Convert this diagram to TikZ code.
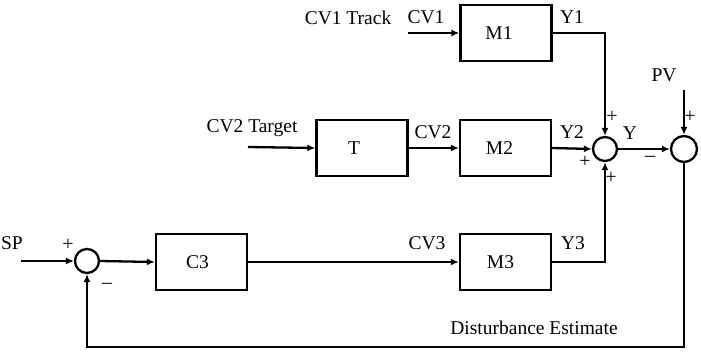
\documentclass[tikz,border=0pt]{standalone}
\usepackage{fontspec}
\setmainfont{Liberation Serif}
\usetikzlibrary{arrows.meta}
\begin{document}
\begin{tikzpicture}[x=1pt,y=-1pt, line width=2.3pt,
  blk/.style={draw, minimum width=91pt, minimum height=56pt, inner sep=0pt, font=\fontsize{19.5}{22}\selectfont},
  sumc/.style={draw, circle, minimum size=24pt, inner sep=0pt},
  lbl/.style={font=\fontsize{19.5}{22}\selectfont, inner sep=0pt},
  sgn/.style={font=\fontsize{20}{22}\selectfont, inner sep=0pt},
  arr/.style={-{Latex[length=8pt,width=7pt]}}]
\useasboundingbox (0,0) rectangle (701,353);
% blocks
\node[blk] (M1) at (506,33) {M1\kern14pt};
\node[blk] (M2) at (505.5,148) {M2\kern12pt};
\node[blk] (T)  at (362,148) {T\kern16pt};
\node[blk] (M3) at (505.5,262) {M3\kern10pt};
\node[blk] (C3) at (201.5,262) {C3\kern8pt};
% summing junctions
\node[sumc] (s1) at (605,149) {};
\node[sumc, minimum size=26pt] (s2) at (684,149) {};
\node[sumc] (s3) at (87,261) {};
% free ends
\coordinate (cv1in) at (408,33);
\coordinate (cv2in) at (248,147);
\coordinate (pvin) at (684,90);
\coordinate (spin) at (21,261);
\coordinate (fb) at (684,347);
% connectors
\draw[arr] (cv1in) -- (M1.west);
\draw[arr] (M1.east) -| (s1.north);
\draw[arr] (cv2in) -- (T.west);
\draw[arr] (T.east) -- (M2.west);
\draw[arr] (M2.east) -- (s1.west);
\draw[arr] (M3.east) -| (s1.south);
\draw[arr] (s1.east) -- (s2.west);
\draw[arr] (pvin) -- (s2.north);
\draw[arr] (s2.south) -- (fb) -| (s3.south);
\draw[arr] (spin) -- (s3.west);
\draw[arr] (s3.east) -- (C3.west);
\draw[arr] (C3.east) -- (M3.west);
% labels
\node[lbl] (l1) at (348,18) {CV1 Track};
\node[lbl] (l2) at (426,17) {CV1};
\node[lbl] (l3) at (572,17) {Y1};
\node[lbl] (l4) at (664,75) {PV};
\node[lbl] (l5) at (252,128) {CV2 Target};
\node[lbl] (l6) at (433,132) {CV2};
\node[lbl] (l7) at (572,132) {Y2};
\node[lbl] (l8) at (630,133) {Y};
\node[lbl] (l9) at (12,243) {SP};
\node[lbl] (l10) at (427,243) {CV3};
\node[lbl] (l11) at (573,243) {Y3};
\node[lbl] (l12) at (534,328) {Disturbance Estimate};
\node[sgn] (p1) at (612,117) {+};
\node[sgn] (p2) at (585,162) {+};
\node[sgn] (p3) at (611,178) {+};
\node[sgn] (p4) at (690,117) {+};
\node[sgn] (m1) at (650,159) {–};
\node[sgn] (p5) at (68,245) {+};
\node[sgn] (m2) at (107,286) {–};
\end{tikzpicture}
\end{document}
